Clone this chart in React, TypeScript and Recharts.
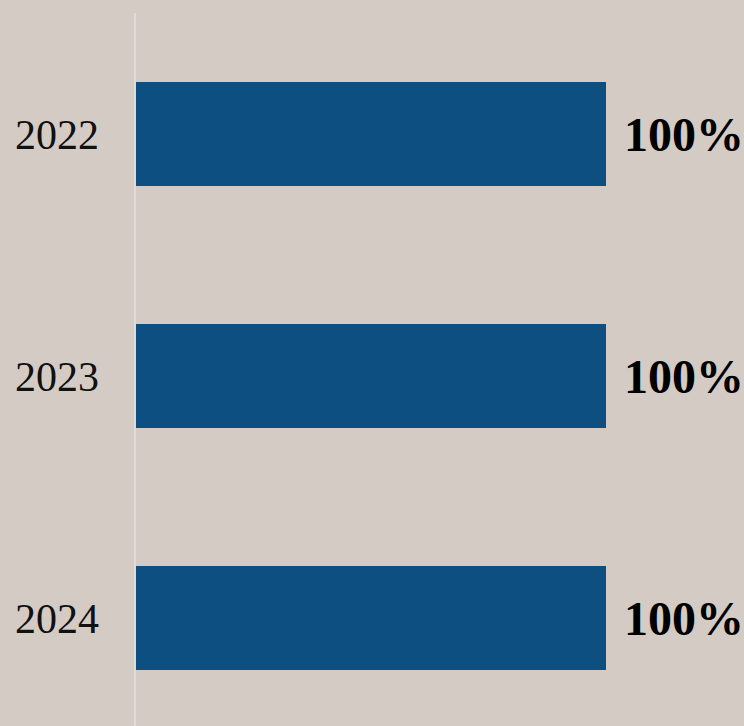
import { BarChart, Bar, XAxis, YAxis, LabelList } from 'recharts';

const years = ['2022', '2023', '2024'];
const shares = [100, 100, 100];

const data = years.map((year, i) => ({ year, share: shares[i] }));

const serif = '"Liberation Serif", "Times New Roman", serif';

export default function App() {
  return (
    <div
      style={{
        position: 'absolute',
        left: 0,
        top: 0,
        width: 744,
        height: 726,
        overflow: 'hidden',
        background: '#d4ccc4',
      }}
    >
      <BarChart
        width={744}
        height={739}
        data={data}
        layout="vertical"
        margin={{ top: 13, right: 138, bottom: 0, left: 0 }}
      >
        <XAxis type="number" domain={[0, 100]} hide />
        <YAxis
          type="category"
          dataKey="year"
          width={135}
          axisLine={{ stroke: '#e0dcd8', strokeWidth: 2 }}
          tickLine={false}
          tickMargin={30}
          tick={{ fontSize: 42, fill: '#111', fontFamily: serif }}
        />
        <Bar dataKey="share" fill="#0d4f80" barSize={104} isAnimationActive={false}>
          <LabelList
            dataKey="share"
            position="right"
            offset={18}
            formatter={(v: number) => `${v}%`}
            style={{ fontSize: 48, fontWeight: 700, fill: '#000', fontFamily: serif }}
          />
        </Bar>
      </BarChart>
    </div>
  );
}
